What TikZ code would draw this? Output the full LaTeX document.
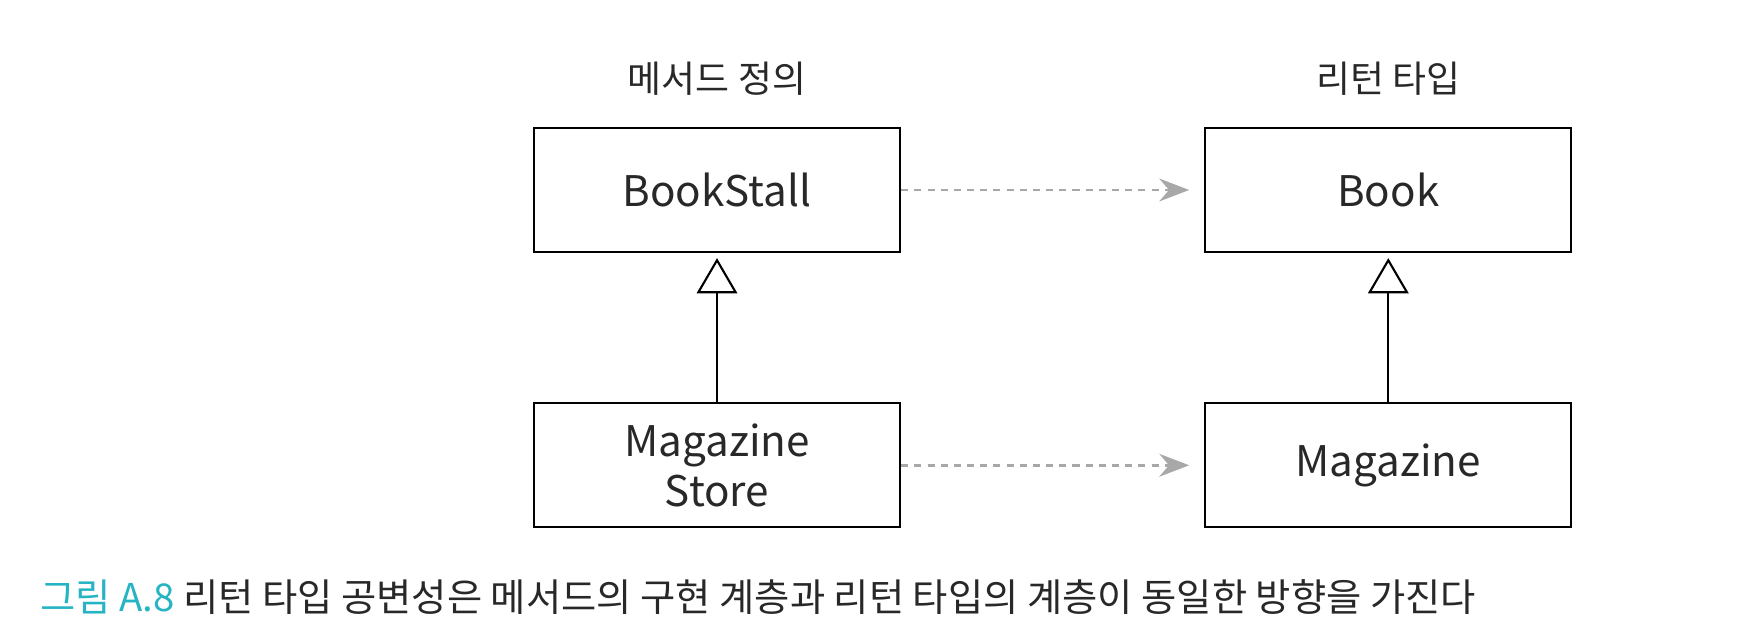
\documentclass[tikz,border=0pt]{standalone}
\usepackage{fontspec}
\setmainfont{Noto Sans CJK KR}
\usetikzlibrary{positioning,arrows.meta}
\definecolor{captioncyan}{RGB}{38,180,196}
\definecolor{dashgray}{RGB}{168,168,168}
\definecolor{inkgray}{RGB}{40,40,40}

\begin{document}
\begin{tikzpicture}[%
    node distance=2.98cm and 6.06cm,
    classbox/.style={%
      rectangle,
      draw,
      line width=1.3pt,
      minimum width=7.32cm,
      minimum height=2.48cm,
      align=center,
      text=inkgray,
      font=\fontsize{24}{28.5}\selectfont
    },
    heading/.style={%
      inner sep=0pt,
      text=inkgray,
      font=\fontsize{21}{25}\selectfont
    },
    covariant/.style={%
      dashgray,
      line width=1.4pt,
      dash pattern=on 4pt off 3.5pt,
      -{Stealth[length=17pt,width=13pt]},
      shorten >=0.3cm
    },
    inherits/.style={%
      line width=1.2pt,
      -{Triangle[open,length=20pt,width=23pt,fill=white]},
      shorten >=0.1cm
    }
  ]
    \useasboundingbox (0,0) rectangle (35.16,-12.8);

    \node[classbox] (stall) at (14.34,-3.8)       {BookStall};
    \node[classbox] (book) [right=of stall]       {Book};
    \node[classbox] (store) [below=of stall]      {Magazine\\Store};
    \node[classbox] (magazine) [below=of book]    {Magazine};

    \node[heading] (methodhead) [above=0.62cm of stall] {메서드 정의};
    \node[heading] (returnhead) [above=0.62cm of book]  {리턴 타입};

    \node[anchor=base west, inner sep=0pt, text=inkgray,
          font=\fontsize{21.8}{26}\selectfont] (caption) at (0.8,-12.24)
          {\textcolor{captioncyan}{그림 A.8} 리턴 타입 공변성은 메서드의 구현 계층과 리턴 타입의 계층이 동일한 방향을 가진다};

    \draw[covariant] (stall) -- (book);
    \draw[covariant] (store) -- (magazine);
    \draw[inherits] (store) -- (stall);
    \draw[inherits] (magazine) -- (book);
\end{tikzpicture}
\end{document}
